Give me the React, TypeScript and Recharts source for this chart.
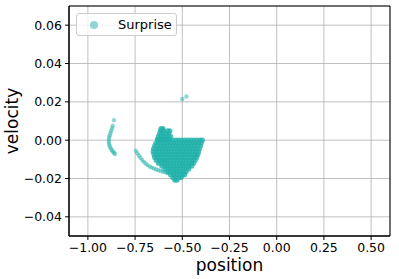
import React from 'react';
import {
  ScatterChart,
  Scatter,
  XAxis,
  YAxis,
  CartesianGrid,
  Legend,
  ReferenceArea,
  Label,
} from 'recharts';

const xTicks = [-1, -0.75, -0.5, -0.25, 0, 0.25, 0.5];
const yTicks = [-0.04, -0.02, 0, 0.02, 0.04, 0.06];

// small arc on the far left
const leftArc: [number, number][] = [
  [-0.862, 0.0104], [-0.868, 0.0075], [-0.872, 0.0062], [-0.876, 0.005],
  [-0.88, 0.0038], [-0.884, 0.0026], [-0.887, 0.0014], [-0.889, 0.0002],
  [-0.889, -0.001], [-0.887, -0.0021], [-0.884, -0.0032], [-0.879, -0.0042],
  [-0.874, -0.0051], [-0.868, -0.0059], [-0.862, -0.0066], [-0.857, -0.0072],
];

// sweep running into the main cluster
const sweepArc: [number, number][] = [
  [-0.746, -0.0055], [-0.738, -0.0068], [-0.73, -0.008], [-0.722, -0.0092],
  [-0.713, -0.0103], [-0.704, -0.0113], [-0.694, -0.0122], [-0.684, -0.013],
  [-0.673, -0.0137], [-0.662, -0.0143], [-0.65, -0.0148], [-0.638, -0.0153],
  [-0.626, -0.0157], [-0.614, -0.0161], [-0.602, -0.0165], [-0.59, -0.0168],
  [-0.578, -0.0172],
];

// dense cluster, one row of positions per velocity
const clusterRows: [number, number[]][] = [
  [0.006, [-0.612, -0.602]],
  [0.0048, [-0.616, -0.6, -0.578, -0.566]],
  [0.0034, [-0.62, -0.604, -0.588, -0.572]],
  [0.002, [-0.626, -0.61, -0.594, -0.578, -0.562]],
  [0.0006, [-0.632, -0.616, -0.6, -0.584, -0.568]],
  [0.0, [-0.63, -0.614, -0.598, -0.582, -0.566, -0.55, -0.534, -0.518, -0.502, -0.486, -0.47, -0.454, -0.438, -0.422, -0.406, -0.394]],
  [-0.0015, [-0.64, -0.624, -0.608, -0.592, -0.576, -0.56, -0.544, -0.528, -0.512, -0.496, -0.48, -0.464, -0.448, -0.432, -0.416, -0.4]],
  [-0.003, [-0.646, -0.63, -0.614, -0.598, -0.582, -0.566, -0.55, -0.534, -0.518, -0.502, -0.486, -0.47, -0.454, -0.438, -0.422, -0.404]],
  [-0.0045, [-0.652, -0.636, -0.62, -0.604, -0.588, -0.572, -0.556, -0.54, -0.524, -0.508, -0.492, -0.476, -0.46, -0.444, -0.428, -0.41]],
  [-0.006, [-0.654, -0.638, -0.622, -0.606, -0.59, -0.574, -0.558, -0.542, -0.526, -0.51, -0.494, -0.478, -0.462, -0.446, -0.43, -0.414]],
  [-0.0075, [-0.65, -0.634, -0.618, -0.602, -0.586, -0.57, -0.554, -0.538, -0.522, -0.506, -0.49, -0.474, -0.458, -0.442, -0.426, -0.418]],
  [-0.009, [-0.646, -0.63, -0.614, -0.598, -0.582, -0.566, -0.55, -0.534, -0.518, -0.502, -0.486, -0.47, -0.454, -0.438, -0.424]],
  [-0.0105, [-0.638, -0.622, -0.606, -0.59, -0.574, -0.558, -0.542, -0.526, -0.51, -0.494, -0.478, -0.462, -0.446, -0.432]],
  [-0.012, [-0.626, -0.61, -0.594, -0.578, -0.562, -0.546, -0.53, -0.514, -0.498, -0.482, -0.466, -0.452, -0.44]],
  [-0.0135, [-0.608, -0.592, -0.576, -0.56, -0.544, -0.528, -0.512, -0.496, -0.48, -0.464, -0.45]],
  [-0.015, [-0.592, -0.576, -0.56, -0.544, -0.528, -0.512, -0.496, -0.48, -0.466]],
  [-0.0165, [-0.576, -0.56, -0.544, -0.528, -0.512, -0.496, -0.48]],
  [-0.018, [-0.562, -0.546, -0.53, -0.514, -0.498, -0.488]],
  [-0.0195, [-0.55, -0.534, -0.518, -0.506]],
  [-0.0208, [-0.54, -0.528]],
];

const outliers: [number, number][] = [
  [-0.5, 0.0215],
  [-0.478, 0.0228],
];

const COLOR = '#20b2aa';
const FONT = 'DejaVu Sans, sans-serif';

const toPoints = (pts: [number, number][]) => pts.map(([position, velocity]) => ({ position, velocity }));
const clusterData = clusterRows.flatMap(([velocity, ps]) => ps.map((position) => ({ position, velocity })));

const fmt = (v: number) => v.toFixed(2).replace('-', '\u2212');

const Dot = (props: any) => (
  <circle cx={props.cx} cy={props.cy} r={2.2} fill={COLOR} fillOpacity={0.5} />
);

// the cluster is many overlapping points in the original, so it reads as solid
const DenseDot = (props: any) => (
  <circle cx={props.cx} cy={props.cy} r={2.6} fill={COLOR} fillOpacity={0.8} />
);

const LegendBox = () => (
  <div
    style={{
      boxSizing: 'border-box',
      width: 101,
      height: 23,
      border: '1px solid #cccccc',
      borderRadius: 3,
      background: 'rgba(255,255,255,0.8)',
      position: 'relative',
      fontFamily: FONT,
      fontSize: 13,
    }}
  >
    <svg width={30} height={21} style={{ position: 'absolute', left: 0, top: 0 }}>
      <circle cx={17} cy={11} r={4} fill={COLOR} fillOpacity={0.5} />
    </svg>
    <span style={{ position: 'absolute', left: 41, top: 3, lineHeight: '15px', color: '#000' }}>Surprise</span>
  </div>
);

export default function App() {
  const tickStyle = { fontFamily: FONT, fontSize: 12.5, fill: '#000' };
  return (
    <div style={{ position: 'absolute', left: 0, top: 0 }}>
      <ScatterChart width={399} height={279} margin={{ top: 6, right: 9, bottom: 0, left: 0 }}>
        <XAxis
          type="number"
          dataKey="position"
          domain={[-1.1, 0.6]}
          ticks={xTicks}
          tickFormatter={fmt}
          allowDataOverflow
          height={43}
          tick={tickStyle}
          tickSize={4}
          tickMargin={3}
          stroke="#000"
          tickLine={{ stroke: '#000' }}
        >
          <Label
            content={({ viewBox }: any) => (
              <text
                x={viewBox.x + viewBox.width / 2}
                y={271}
                textAnchor="middle"
                fontFamily={FONT}
                fontSize={17}
                fill="#000"
              >
                position
              </text>
            )}
          />
        </XAxis>
        <YAxis
          type="number"
          dataKey="velocity"
          domain={[-0.05, 0.07]}
          ticks={yTicks}
          tickFormatter={fmt}
          allowDataOverflow
          width={69}
          tick={tickStyle}
          tickSize={4}
          tickMargin={3}
          stroke="#000"
          tickLine={{ stroke: '#000' }}
        >
          <Label
            content={({ viewBox }: any) => {
              const cy = viewBox.y + viewBox.height / 2;
              return (
                <text
                  x={12}
                  y={cy}
                  dy="0.35em"
                  textAnchor="middle"
                  transform={`rotate(-90 12 ${cy})`}
                  fontFamily={FONT}
                  fontSize={17}
                  fill="#000"
                >
                  velocity
                </text>
              );
            }}
          />
        </YAxis>
        <Scatter name="Surprise" data={toPoints(leftArc)} shape={Dot} isAnimationActive={false} />
        <Scatter data={toPoints(sweepArc)} shape={Dot} legendType="none" isAnimationActive={false} />
        <Scatter data={clusterData} shape={DenseDot} legendType="none" isAnimationActive={false} />
        <Scatter data={toPoints(outliers)} shape={Dot} legendType="none" isAnimationActive={false} />
        <CartesianGrid stroke="#b0b0b0" strokeWidth={0.8} />
        <ReferenceArea x1={-1.1} x2={0.6} y1={-0.05} y2={0.07} fill="none" stroke="#000" strokeWidth={1} />
        <Legend
          layout="vertical"
          align="center"
          verticalAlign="middle"
          wrapperStyle={{ left: 76, top: 13, width: 101 }}
          content={() => <LegendBox />}
        />
      </ScatterChart>
    </div>
  );
}
